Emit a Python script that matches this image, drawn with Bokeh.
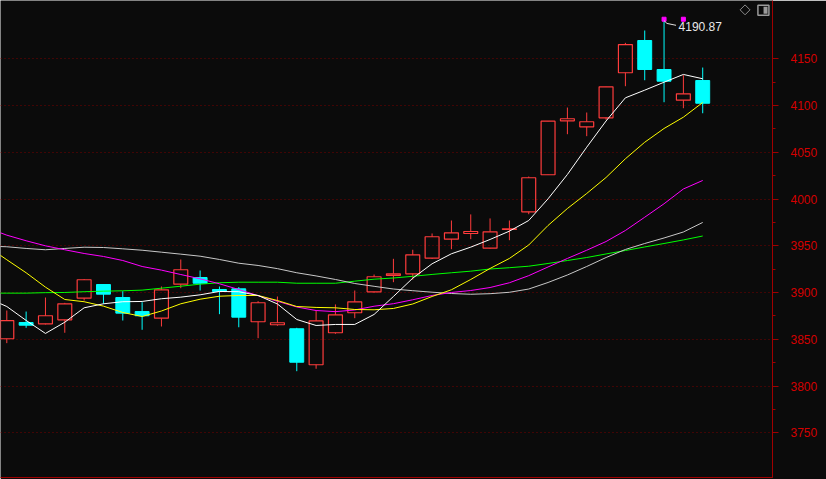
import numpy as np
from bokeh.plotting import figure
from bokeh.models import Range1d, LinearAxis, FixedTicker, Label, ColumnDataSource
from bokeh.embed import file_html
from bokeh.resources import INLINE

# ---------------- data ----------------
opens  = [3850.6, 3868.0, 3866.6, 3870.9, 3894.0, 3908.6, 3894.7, 3879.7, 3872.6, 3909.0,
          3916.1, 3903.3, 3904.0, 3868.8, 3865.6, 3861.3, 3822.8, 3857.0, 3878.4, 3900.8,
          3918.3, 3920.1, 3936.8, 3957.1, 3963.2, 3947.5, 3967.5, 3986.4, 4026.0, 4083.7,
          4077.3, 4086.9, 4135.1, 4169.6, 4138.6, 4105.8, 4126.8]
highs  = [3880.8, 3879.7, 3894.7, 3889.0, 3914.5, 3909.0, 3901.5, 3889.7, 3906.5, 3935.4,
          3923.6, 3906.5, 3905.8, 3890.8, 3895.8, 3862.3, 3880.8, 3887.3, 3902.2, 3919.3,
          3936.1, 3945.8, 3963.2, 3977.1, 3983.6, 3979.3, 3977.1, 4024.1, 4083.5, 4097.9,
          4092.6, 4120.3, 4167.1, 4180.3, 4190.87, 4132.5, 4140.7]
lows   = [3845.9, 3862.3, 3865.9, 3857.0, 3891.5, 3888.0, 3870.1, 3860.2, 3863.7, 3904.7,
          3902.2, 3876.9, 3862.9, 3851.2, 3864.5, 3815.9, 3818.5, 3855.9, 3872.6, 3900.0,
          3911.1, 3913.7, 3936.0, 3946.4, 3957.1, 3947.0, 3956.0, 3983.8, 4025.8, 4069.4,
          4067.3, 4084.8, 4120.7, 4127.1, 4103.6, 4097.2, 4091.8]
closes = [3870.1, 3865.1, 3875.2, 3888.0, 3913.7, 3898.3, 3878.0, 3875.2, 3902.9, 3924.4,
          3910.0, 3901.2, 3873.7, 3889.1, 3867.7, 3825.5, 3869.8, 3876.2, 3890.1, 3916.9,
          3920.1, 3940.4, 3959.7, 3963.9, 3965.3, 3965.0, 3968.2, 4022.8, 4083.3, 4085.9,
          4082.7, 4120.1, 4165.3, 4138.6, 4126.1, 4112.6, 4102.5]

# moving-average lines; first value belongs to the bar just left of the window
ma5  = [3894.2, 3885.1, 3870.2, 3856.3, 3868.3, 3883.7, 3888.0, 3890.2, 3890.5, 3893.4,
        3895.1, 3897.6, 3901.2, 3900.9, 3896.9, 3887.8, 3871.2, 3864.8, 3865.9, 3865.9,
        3876.6, 3895.8, 3915.4, 3930.8, 3941.5, 3948.6, 3956.8, 3965.7, 3977.1, 4000.3,
        4026.3, 4055.5, 4083.5, 4108.3, 4116.5, 4125.0, 4133.3, 4128.7]
ma10 = [3949.3, 3935.1, 3921.2, 3905.8, 3892.6, 3890.2, 3885.5, 3878.7, 3874.4, 3880.3,
        3888.0, 3892.9, 3896.1, 3896.9, 3896.9, 3891.5, 3885.1, 3884.1, 3883.7, 3881.9,
        3881.6, 3883.0, 3887.8, 3895.8, 3903.0, 3914.0, 3925.8, 3936.5, 3950.9, 3971.8,
        3989.9, 4006.0, 4023.1, 4043.1, 4060.8, 4075.5, 4087.6, 4103.3]
ma20 = [3969.1, 3961.4, 3955.4, 3950.0, 3945.8, 3941.8, 3938.6, 3934.3, 3927.9, 3924.0,
        3919.3, 3914.7, 3909.4, 3903.3, 3896.6, 3890.7, 3884.6, 3880.8, 3879.6, 3881.4,
        3885.4, 3888.1, 3892.3, 3896.9, 3900.1, 3902.2, 3905.4, 3910.5, 3918.1, 3927.4,
        3936.5, 3945.3, 3954.6, 3966.4, 3980.6, 3995.0, 4010.8, 4019.9]
ma30 = [3949.7, 3949.0, 3947.2, 3945.8, 3947.2, 3948.5, 3948.2, 3946.8, 3945.3, 3943.2,
        3941.1, 3938.9, 3935.4, 3931.4, 3929.0, 3925.6, 3921.2, 3917.8, 3914.0, 3909.7,
        3906.7, 3903.8, 3902.0, 3900.4, 3899.0, 3898.2, 3898.8, 3900.3, 3903.8, 3910.8,
        3918.8, 3927.9, 3937.5, 3946.1, 3952.5, 3958.4, 3964.8, 3975.0]
ma60 = [3899.4, 3899.4, 3899.4, 3899.9, 3900.1, 3900.9, 3901.5, 3901.9, 3902.6, 3904.7,
        3906.8, 3909.0, 3910.5, 3911.1, 3911.1, 3911.1, 3910.0, 3910.0, 3910.0, 3912.2,
        3914.3, 3915.6, 3917.4, 3919.4, 3921.2, 3922.9, 3925.2, 3926.6, 3928.2, 3931.1,
        3934.3, 3937.5, 3941.3, 3945.0, 3948.8, 3952.5, 3956.3, 3960.5]

y_ticks = [3750, 3800, 3850, 3900, 3950, 4000, 4050, 4100, 4150]
y_minor = [3775, 3825, 3875, 3925, 3975, 4025, 4075, 4125]

# ---------------- styling ----------------
BG = "#0b0b0b"
RED = "#ff3c3c"
CYAN = "#00ffff"
AXIS_RED = "#a00000"

o = np.array(opens); h = np.array(highs); l = np.array(lows); c = np.array(closes)
n = len(o)
idx = np.arange(1, n + 1)
ma_idx = np.arange(0, n + 1)
top = np.maximum(o, c)
bot = np.minimum(o, c)
up = c >= o
dn = ~up

x_start, x_end = 0.674, 40.61
y_bot, y_top = 3702.2, 4212.4

p = figure(width=826, height=479,
           x_range=Range1d(x_start, x_end), y_range=Range1d(y_bot, y_top),
           output_backend="svg", toolbar_location=None,
           x_axis_location=None, y_axis_location="right",
           min_border_left=0, min_border_top=0, min_border_bottom=2, min_border_right=54,
           background_fill_color=BG, border_fill_color=BG, outline_line_color=None)

ax = p.yaxis[0]
ax.ticker = FixedTicker(ticks=y_ticks, minor_ticks=y_minor)
ax.axis_line_color = AXIS_RED
ax.major_tick_line_color = AXIS_RED
ax.minor_tick_line_color = AXIS_RED
ax.major_tick_out = 6
ax.major_tick_in = 0
ax.minor_tick_out = 3
ax.minor_tick_in = 0
ax.major_label_text_color = "#d40000"
ax.major_label_text_font = "Liberation Sans"
ax.major_label_text_font_size = "12px"
ax.major_label_standoff = 12

bx = LinearAxis(ticker=FixedTicker(ticks=[]), axis_line_color=AXIS_RED,
                major_tick_out=0, major_tick_in=0, minor_tick_out=0, minor_tick_in=0,
                major_label_text_font_size="0px", major_label_standoff=0)
p.add_layout(bx, "below")

p.xgrid.visible = False
p.ygrid.ticker = FixedTicker(ticks=y_ticks)
p.ygrid.grid_line_color = "#780000"
p.ygrid.grid_line_dash = "1 3"
p.ygrid.grid_line_width = 1

src_up = ColumnDataSource(dict(x=idx[up], top=top[up], bot=bot[up], hi=h[up], lo=l[up]))
src_dn = ColumnDataSource(dict(x=idx[dn], top=top[dn], bot=bot[dn], hi=h[dn], lo=l[dn]))

# falling bars: cyan, filled
p.segment(x0="x", y0="hi", x1="x", y1="lo", source=src_dn, line_color=CYAN, line_width=1)
p.vbar(x="x", width=0.72, top="top", bottom="bot", source=src_dn,
       fill_color=CYAN, line_color=CYAN, line_width=1)
# rising bars: red, hollow
p.segment(x0="x", y0="hi", x1="x", y1="top", source=src_up, line_color=RED, line_width=1)
p.segment(x0="x", y0="bot", x1="x", y1="lo", source=src_up, line_color=RED, line_width=1)
p.vbar(x="x", width=0.72, top="top", bottom="bot", source=src_up,
       fill_color=None, line_color=RED, line_width=1.2)

# moving averages
p.line(ma_idx, ma60, line_color="#00ff00", line_width=1)
p.line(ma_idx, ma30, line_color="#c8c8c8", line_width=1)
p.line(ma_idx, ma20, line_color="#ff00ff", line_width=1)
p.line(ma_idx, ma10, line_color="#ffff00", line_width=1)
p.line(ma_idx, ma5, line_color="#ffffff", line_width=1)

# highest-high marker
hi_i = int(np.argmax(h))
hx = float(idx[hi_i]); hv = float(h[hi_i])
p.scatter([hx, hx + 1], [hv + 1.5, hv + 1.5], marker="square", size=4,
          fill_color="#ff00ff", line_color="#ff00ff")
p.line([hx, hx + 0.15, hx + 0.62], [hv, hv - 3.0, hv - 5.0], line_color="#e0e0e0", line_width=1)
p.add_layout(Label(x=hx + 0.75, y=hv - 5.0, y_offset=-1, text=f"{hv:.2f}",
                   text_baseline="middle", text_align="left",
                   text_color="#e8e8e8", text_font="Liberation Sans",
                   text_font_size="12px"))

# top-right small icons
p.scatter([x_end - 1.42], [y_top - 10.0], marker="square", angle=np.pi / 4, size=7,
          fill_alpha=0, line_color="#8c8c8c", line_width=1)
p.rect([x_end - 0.47], [y_top - 10.3], width=11, height=10,
       width_units="screen", height_units="screen",
       fill_alpha=0, line_color="#9a9a9a", line_width=1.5)
p.rect([x_end - 0.36], [y_top - 10.3], width=4, height=7,
       width_units="screen", height_units="screen",
       fill_color="#9a9a9a", line_color=None)

open("out.html", "w").write(file_html(p, INLINE))
